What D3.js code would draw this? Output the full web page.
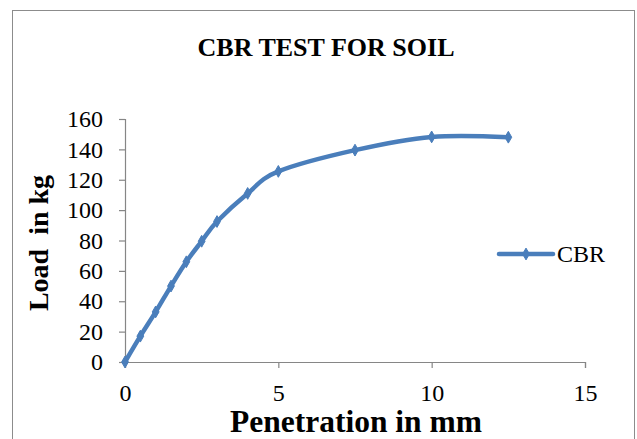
<!DOCTYPE html>
<html>
<head>
<meta charset="utf-8">
<script src="https://cdn.jsdelivr.net/npm/d3@7"></script>
<style>
  html, body { margin: 0; padding: 0; background: #fff; }
  svg, svg text { font-family: "Liberation Serif", "Times New Roman", "DejaVu Serif", serif; }
</style>
</head>
<body>
<svg id="chart" width="637" height="439"></svg>
<script>
const penetration = [0, 0.5, 1, 1.5, 2, 2.5, 3, 4, 5, 7.5, 10, 12.5];
const load = [0, 17, 33, 50, 66, 79.5, 92.5, 111, 125.5, 139.5, 148.2, 148];
const xTicks = [0, 5, 10, 15];
const yTicks = [0, 20, 40, 60, 80, 100, 120, 140, 160];
const seriesName = "CBR";
const titleText = "CBR TEST FOR SOIL";
const xTitle = "Penetration in mm";
const yTitle = "Load  in kg";

const FONT = "'Liberation Serif', 'Times New Roman', 'DejaVu Serif', serif";
const svg = d3.select("#chart").attr("font-family", FONT);
const color = "#4a7ebb";
const axisColor = "#868686";

// outer frame
svg.append("rect")
  .attr("x", 12.5).attr("y", 10.5)
  .attr("width", 622).attr("height", 445)
  .attr("fill", "#fff").attr("stroke", "#8c8c8c").attr("stroke-width", 1);

const x = d3.scaleLinear().domain([0, 15]).range([125, 585]);
const y = d3.scaleLinear().domain([0, 160]).range([362, 119]);

// y axis
const yAxis = svg.append("g")
  .attr("transform", `translate(${x(0)},0)`)
  .call(d3.axisLeft(y).tickValues(yTicks).tickSize(6).tickPadding(16).tickFormat(d3.format("d")));
// x axis
const xAxis = svg.append("g")
  .attr("transform", `translate(0,${y(0)})`)
  .call(d3.axisBottom(x).tickValues(xTicks).tickSize(6).tickPadding(16).tickFormat(d3.format("d")));

[xAxis, yAxis].forEach(g => {
  g.attr("font-family", FONT).attr("font-size", 24);
  g.select(".domain").attr("stroke", axisColor).attr("stroke-width", 1.2);
  g.selectAll(".tick line").attr("stroke", axisColor).attr("stroke-width", 1.2);
  g.selectAll(".tick text")
    .attr("fill", "#000")
    .attr("font-family", FONT)
    .attr("font-size", 24);
});

// line
const pts = penetration.map((p, i) => [p, load[i]]);
const line = d3.line()
  .x(d => x(d[0])).y(d => y(d[1]))
  .curve(d3.curveCardinal.tension(0));
svg.append("path")
  .datum(pts)
  .attr("d", line)
  .attr("fill", "none")
  .attr("stroke", color)
  .attr("stroke-width", 4.5)
  .attr("stroke-linecap", "round")
  .attr("stroke-linejoin", "round");

const diamond = d3.symbol().type(d3.symbolDiamond).size(40);
svg.append("g").selectAll("path")
  .data(pts)
  .join("path")
  .attr("d", diamond)
  .attr("transform", d => `translate(${x(d[0])},${y(d[1])})`)
  .attr("fill", color)
  .attr("stroke", color)
  .attr("stroke-width", 1);

// title
svg.append("text")
  .attr("x", 326).attr("y", 56)
  .attr("text-anchor", "middle")
  .attr("font-family", FONT)
  .attr("font-size", 26).attr("font-weight", "bold")
  .text(titleText);

// x title
svg.append("text")
  .attr("x", 356).attr("y", 432)
  .attr("text-anchor", "middle")
  .attr("font-family", FONT)
  .attr("font-size", 31.5).attr("font-weight", "bold")
  .text(xTitle);

// y title
svg.append("text")
  .attr("transform", "translate(48,243) rotate(-90)")
  .attr("text-anchor", "middle")
  .attr("font-family", FONT)
  .attr("font-size", 28).attr("font-weight", "bold")
  .style("white-space", "pre")
  .text(yTitle);

// legend
const lg = svg.append("g");
lg.append("line")
  .attr("x1", 499).attr("x2", 553).attr("y1", 254).attr("y2", 254)
  .attr("stroke", color).attr("stroke-width", 4.5).attr("stroke-linecap", "round");
lg.append("path")
  .attr("d", diamond)
  .attr("transform", "translate(526,254)")
  .attr("fill", color).attr("stroke", color);
lg.append("text")
  .attr("x", 557).attr("y", 262)
  .attr("font-family", FONT)
  .attr("font-size", 24)
  .text(seriesName);
</script>
</body>
</html>
